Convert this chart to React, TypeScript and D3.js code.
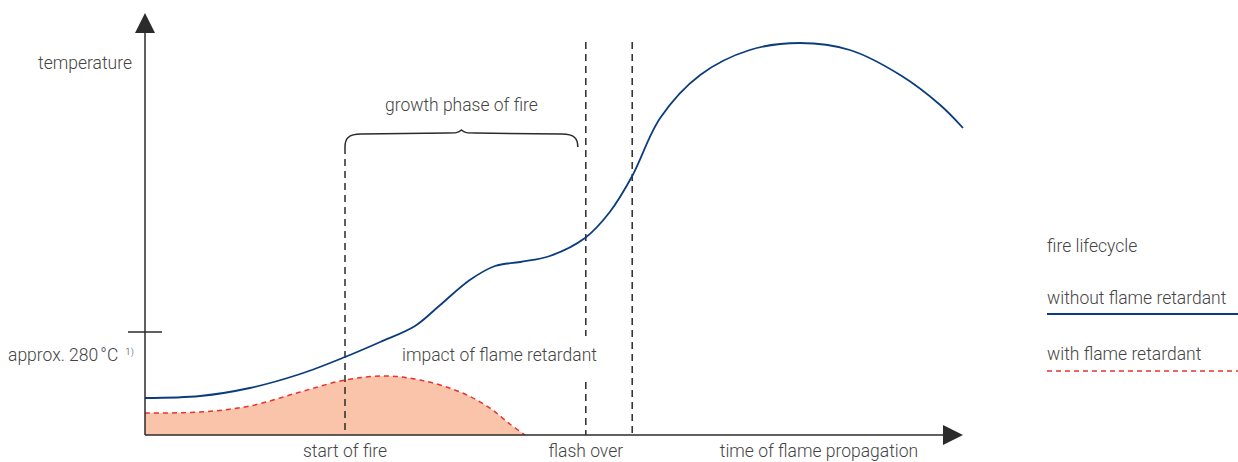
import React from "react";
import * as d3 from "d3";

const W = 1238;
const H = 462;

// time (x) and temperature (y) in arbitrary units
const withoutX = [0, 6.9, 13.1, 19.4, 25, 29.4, 33.75, 36.9, 40.6, 43.75, 46.9, 50.6, 55, 58.1, 60.9, 64.4, 69.4, 75.6, 81.9, 88.1, 94.4, 99.4, 102.25];
const withoutY = [9.25, 9.75, 11.75, 15.25, 19.5, 23.25, 27.25, 32.5, 38.75, 42.25, 43.25, 44.75, 49.25, 55.75, 64.75, 79.25, 90, 96.25, 98, 96.25, 90, 82.5, 76.75];

const withX = [0, 6.9, 13.1, 19.4, 25, 30, 34.4, 39.4, 43.1, 45.6, 47.5];
const withY = [5.5, 5.75, 7.25, 10.75, 13.75, 14.75, 13.75, 10.75, 6.75, 2.75, 0];

const phaseLabels = ["start of fire", "flash over", "time of flame propagation"];
const phaseX = [25, 55.1, 84.25];
const markerX = [25, 55.1, 60.9];
const growthRange = [25, 54.1];
const thresholdY = 25.75;
const thresholdLabel = "approx. 280\u202F°C";

const legendTitle = "fire lifecycle";
const legendItems = ["without flame retardant", "with flame retardant"];

const BLUE = "#0b3d7e";
const RED = "#e8322f";
const FILL = "#f9c4a9";
const INK = "#2b2b2b";
const TEXT = "#444";
const FONT = "Roboto, 'Liberation Sans', Arial, sans-serif";

export default function App() {
  const x = d3.scaleLinear().domain([0, 100]).range([145, 945]);
  const y = d3.scaleLinear().domain([0, 100]).range([435, 35]);

  const without = withoutX.map((v, i) => [v, withoutY[i]] as [number, number]);
  const withFR = withX.map((v, i) => [v, withY[i]] as [number, number]);

  const line = d3
    .line<[number, number]>()
    .x((d) => x(d[0]))
    .y((d) => y(d[1]))
    .curve(d3.curveCatmullRom.alpha(0.5));
  const area = d3
    .area<[number, number]>()
    .x((d) => x(d[0]))
    .y0(y(0))
    .y1((d) => y(d[1]))
    .curve(d3.curveCatmullRom.alpha(0.5));

  const x0 = x(0);
  const y0 = y(0);
  const axisTopY = 13;
  const axisRightX = 963;

  const bx0 = x(growthRange[0]);
  const bx1 = x(growthRange[1]);
  const bm = (bx0 + bx1) / 2;
  const bt = 133;
  const brace = `M${bx0},147 C${bx0},139 ${bx0 + 3},${bt + 1} ${bx0 + 16},${bt + 1} L${bm - 14},${bt} C${bm - 6},${bt} ${bm - 3},${bt} ${bm},${bt - 3} C${bm + 3},${bt} ${bm + 6},${bt} ${bm + 14},${bt} L${bx1 - 16},${bt + 1} C${bx1 - 3},${bt + 1} ${bx1},139 ${bx1},147`;

  const dash = "7,5";

  return (
    <svg width={W} height={H} style={{ position: "absolute", left: 0, top: 0, background: "#fff" }} fontFamily={FONT}>
      <rect width={W} height={H} fill="#fff" />
      {/* with flame retardant area */}
      <path d={area(withFR) || ""} fill={FILL} />
      <path d={line(withFR) || ""} fill="none" stroke={RED} strokeWidth={1.5} strokeDasharray="5,4" />

      {/* dashed markers */}
      <line x1={x(markerX[0])} x2={x(markerX[0])} y1={147} y2={y0} stroke={INK} strokeWidth={1.5} strokeDasharray={dash} />
      <line x1={x(markerX[1])} x2={x(markerX[1])} y1={42} y2={336} stroke={INK} strokeWidth={1.5} strokeDasharray={dash} />
      <line x1={x(markerX[1])} x2={x(markerX[1])} y1={382} y2={y0} stroke={INK} strokeWidth={1.5} strokeDasharray={dash} />
      <line x1={x(markerX[2])} x2={x(markerX[2])} y1={42} y2={y0} stroke={INK} strokeWidth={1.5} strokeDasharray={dash} />

      {/* without flame retardant */}
      <path d={line(without) || ""} fill="none" stroke={BLUE} strokeWidth={1.8} />

      {/* axes */}
      <line x1={x0} x2={x0} y1={y0} y2={axisTopY + 18} stroke={INK} strokeWidth={1.5} />
      <path d={`M${x0},${axisTopY} L${x0 + 10},${axisTopY + 20} L${x0 - 10},${axisTopY + 20} Z`} fill={INK} />
      <line x1={x0} x2={axisRightX - 18} y1={y0} y2={y0} stroke={INK} strokeWidth={1.5} />
      <path d={`M${axisRightX},${y0} L${axisRightX - 20},${y0 - 10} L${axisRightX - 20},${y0 + 10} Z`} fill={INK} />
      <line x1={x0 - 17} x2={x0 + 17} y1={y(thresholdY)} y2={y(thresholdY)} stroke={INK} strokeWidth={1.5} />

      {/* brace */}
      <path d={brace} fill="none" stroke={INK} strokeWidth={1.5} />

      {/* texts */}
      <g fill={TEXT} fontSize={17.5} fontWeight={300}>
        <text x={132} y={69} textAnchor="end">temperature</text>
        <text x={8} y={361}>
          {thresholdLabel}
          <tspan fontSize={9.5} dx={7} dy={-6}>1)</tspan>
        </text>
        <text x={bm} y={111} textAnchor="middle">growth phase of fire</text>
        <text x={402} y={361}>impact of flame retardant</text>
        {phaseLabels.map((l, i) => (
          <text key={l} x={x(phaseX[i])} y={457} textAnchor="middle">{l}</text>
        ))}
        <text x={1047} y={252}>{legendTitle}</text>
        <text x={1047} y={304}>{legendItems[0]}</text>
        <text x={1047} y={360}>{legendItems[1]}</text>
      </g>
      <line x1={1047} x2={1238} y1={314} y2={314} stroke={BLUE} strokeWidth={1.8} />
      <line x1={1047} x2={1238} y1={371} y2={371} stroke={RED} strokeWidth={1.5} strokeDasharray="5,4" />
    </svg>
  );
}
